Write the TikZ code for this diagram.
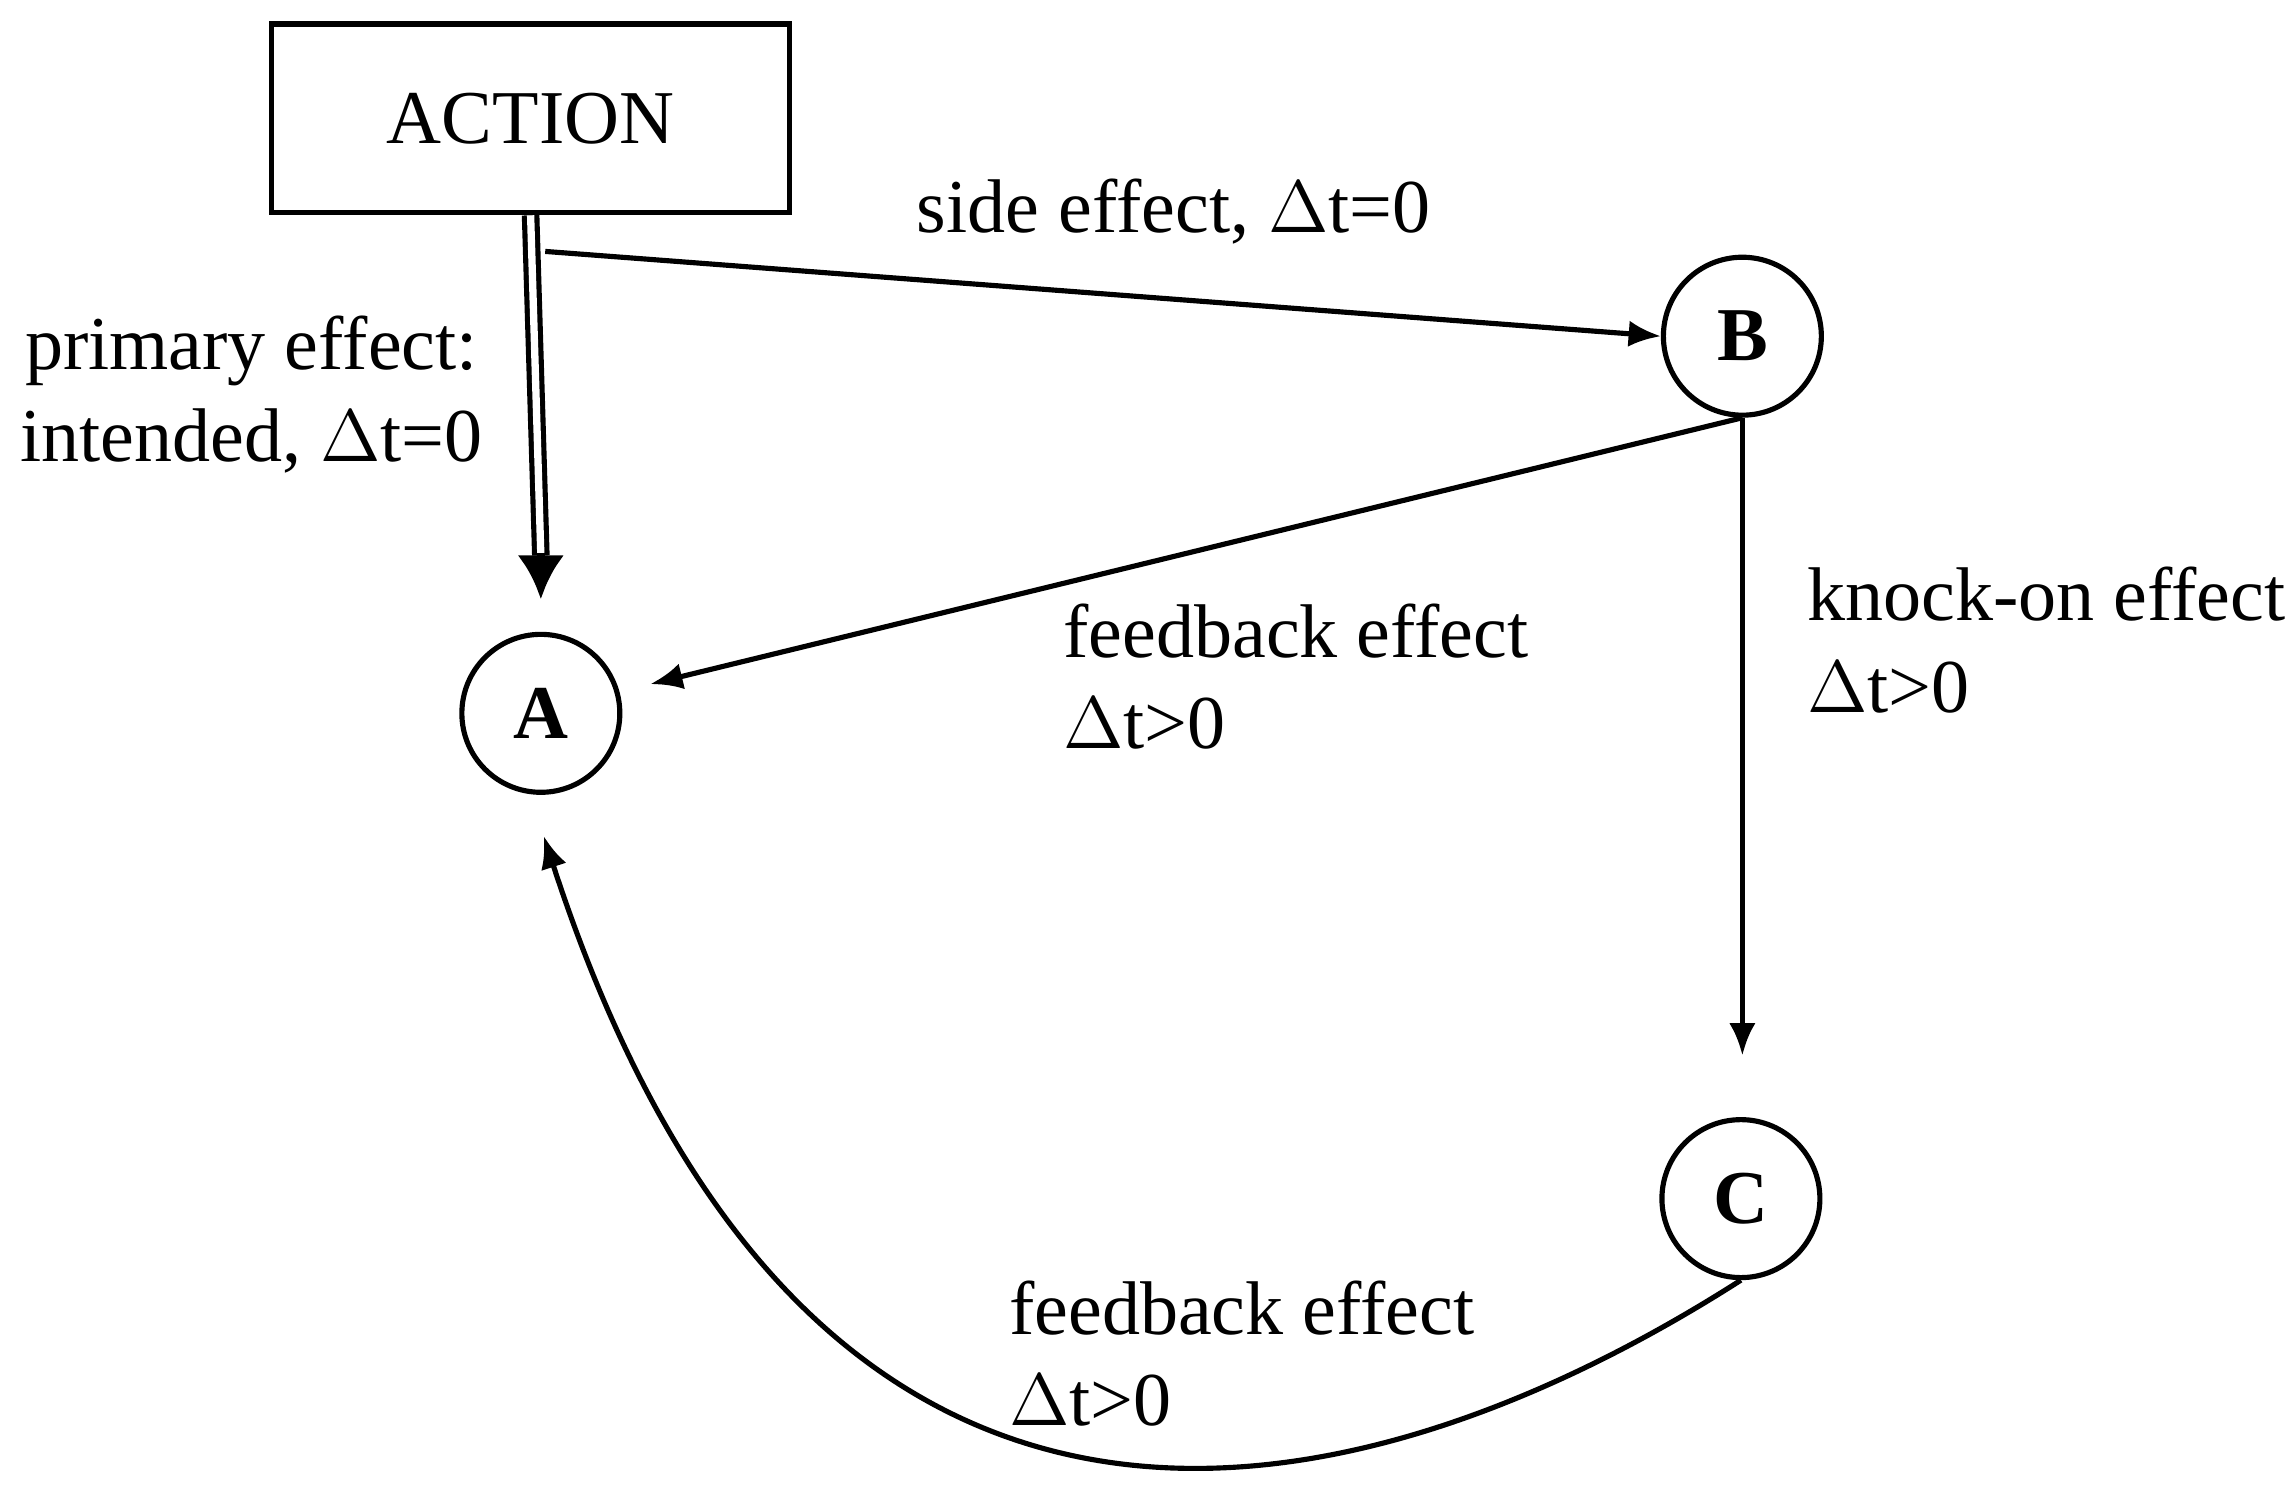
\documentclass[tikz,border=0pt]{standalone}
\usepackage{fontspec}
\setmainfont{Liberation Serif}
\usetikzlibrary{arrows.meta}
\begin{document}
\begin{tikzpicture}[x=0.01cm,y=-0.01cm,
  lbl/.style={font=\fontsize{14.8pt}{17.8pt}\selectfont},
  circ/.style={circle,draw,line width=1pt,minimum size=1.08cm,inner sep=0pt,font=\fontsize{14.8pt}{17pt}\selectfont\bfseries},
  arr/.style={line width=1pt,-{Latex[length=0.22cm,width=0.18cm]}}]
\useasboundingbox (0,0) rectangle (1568,1024);
\node[draw,line width=1pt,minimum width=3.54cm,minimum height=1.29cm,lbl] (act) at (363,81) {ACTION};
\node[circ] (A) at (370,488) {A};
\node[circ] (B) at (1192,230) {B};
\node[circ] (C) at (1191,820) {C};
\coordinate (s) at (373,172);
\coordinate (d) at (370,410);
\draw[line width=1pt,double distance=0.05cm] (act.south) -- (370,380);
\draw[arr,line width=1.5pt,-{Latex[length=0.3cm,width=0.32cm]}] (370,378) -- (d);
\draw[arr] (s) -- (B.west);
\draw[arr] (B.south) -- (445,468);
\draw[arr] (B.south) -- (1192,722);
\draw[arr] (C.south) .. controls (950,1030) and (560,1150) .. (372,572);
\node[lbl,align=center] (t1) at (172,270) {primary effect:\\intended, $\Delta$t=0};
\node[lbl] (t2) at (803,145) {side effect, $\Delta$t=0};
\node[lbl,align=left,anchor=west] (t3) at (715,463) {feedback effect\\$\Delta$t>0};
\node[lbl,align=left,anchor=west] (t4) at (1224,438) {knock-on effect\\$\Delta$t>0};
\node[lbl,align=left,anchor=west] (t5) at (678,926) {feedback effect\\$\Delta$t>0};
\end{tikzpicture}
\end{document}
